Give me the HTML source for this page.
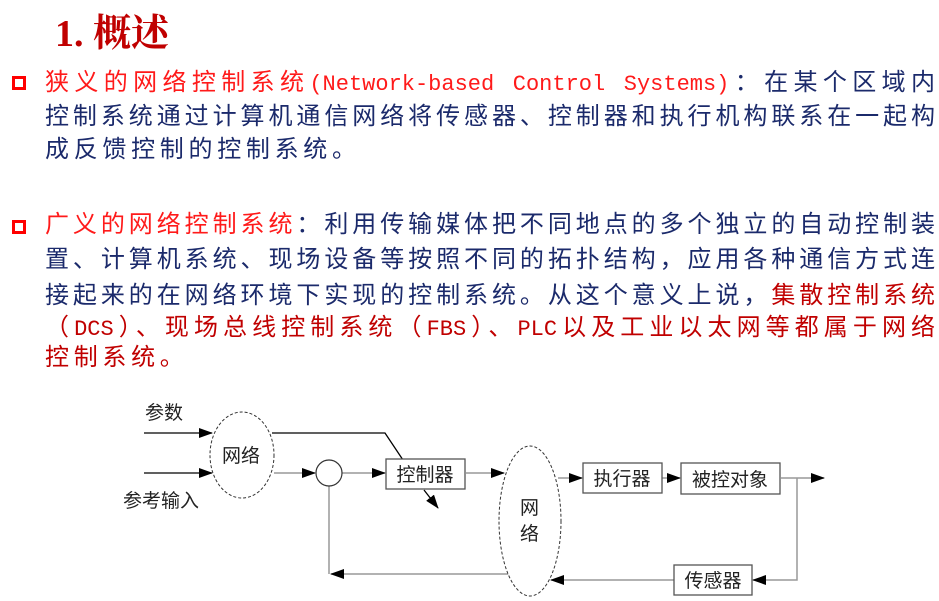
<!DOCTYPE html>
<html><head><meta charset="utf-8"><style>
body{margin:0;width:939px;height:601px;background:#fff;position:relative;overflow:hidden;font-family:"Liberation Sans","Noto Sans CJK SC",sans-serif}
.t{position:absolute;left:55px;top:2px;font-family:"Liberation Serif","Noto Serif CJK SC",serif;font-size:38px;color:#c00000;font-weight:bold}
.l{position:absolute;left:45px;width:890px;height:34px;line-height:34px;font-size:24px;color:#1b2a6b;white-space:nowrap;text-align:justify;text-align-last:justify}
.l.s{text-align-last:left;letter-spacing:4.7px}
.r{color:#ff1a1a}.d{color:#c00000}
.m{font-family:"Liberation Mono",monospace;font-size:22px}
.b{position:absolute;left:12px;width:8px;height:8px;border:3px solid #ff0000}
svg{position:absolute;left:0;top:0}
</style></head><body>
<div class="t">1. 概述</div>
<div class="b" style="top:76px"></div>
<div class="l" style="top:66px"><span class="r">狭义的网络控制系统<span class="m">(Network-based Control Systems)</span></span>：在某个区域内</div>
<div class="l" style="top:100px">控制系统通过计算机通信网络将传感器、控制器和执行机构联系在一起构</div>
<div class="l s" style="top:133px">成反馈控制的控制系统。</div>
<div class="b" style="top:220px"></div>
<div class="l" style="top:208px"><span class="r">广义的网络控制系统</span>：利用传输媒体把不同地点的多个独立的自动控制装</div>
<div class="l" style="top:243px">置、计算机系统、现场设备等按照不同的拓扑结构，应用各种通信方式连</div>
<div class="l" style="top:279px">接起来的在网络环境下实现的控制系统。从这个意义上说，<span class="d">集散控制系统</span></div>
<div class="l d" style="top:311px">（<span class="m">DCS</span>）、现场总线控制系统（<span class="m">FBS</span>）、<span class="m">PLC</span>以及工业以太网等都属于网络</div>
<div class="l s d" style="top:341px">控制系统。</div>
<svg width="939" height="601" font-family="Liberation Sans,Noto Sans CJK SC,sans-serif" font-size="19">
<defs><marker id="a" markerWidth="14" markerHeight="10" refX="13" refY="5" orient="auto" markerUnits="userSpaceOnUse"><path d="M0,0L14,5L0,10Z" fill="#000"/></marker></defs>
<g fill="#222">
<text x="145" y="419">参数</text>
<text x="123" y="507">参考输入</text>
</g>
<g stroke="#000" stroke-width="1.3" fill="none">
<line x1="144" y1="433" x2="212" y2="433" marker-end="url(#a)"/>
<line x1="144" y1="473" x2="212" y2="473" marker-end="url(#a)"/>
<polyline points="272,433 385,433 403,460"/>
<line x1="424" y1="490" x2="438" y2="508" marker-end="url(#a)"/>
</g>
<g stroke="#999" stroke-width="1.5" fill="none">
<line x1="274" y1="473" x2="315" y2="473" marker-end="url(#a)"/>
<line x1="342" y1="473" x2="385" y2="473" marker-end="url(#a)"/>
<line x1="466" y1="473" x2="504" y2="473" marker-end="url(#a)"/>
<line x1="329" y1="486" x2="329" y2="574"/>
<line x1="510" y1="574" x2="331" y2="574" marker-end="url(#a)"/>
<line x1="558" y1="478" x2="582" y2="478" marker-end="url(#a)"/>
<line x1="662" y1="478" x2="680" y2="478" marker-end="url(#a)"/>
<line x1="781" y1="478" x2="824" y2="478" marker-end="url(#a)"/>
<polyline points="797,478 797,580 753,580" marker-end="url(#a)"/>
<line x1="674" y1="580" x2="551" y2="580" marker-end="url(#a)"/>
</g>
<g stroke="#333" stroke-width="1" stroke-dasharray="3,2" fill="#fff">
<ellipse cx="242" cy="455" rx="32" ry="43"/>
<ellipse cx="530" cy="521" rx="31" ry="75"/>
</g>
<circle cx="329" cy="473" r="13" fill="#fff" stroke="#333" stroke-width="1.2"/>
<g fill="#fff" stroke="#555" stroke-width="1.3">
<rect x="386" y="459" width="79" height="30"/>
<rect x="583" y="463" width="79" height="30"/>
<rect x="681" y="463" width="99" height="31"/>
<rect x="674" y="565" width="78" height="30"/>
</g>
<g fill="#222">
<text x="222" y="462">网络</text>
<text x="520" y="514">网</text>
<text x="520" y="540">络</text>
<text x="425" y="481" text-anchor="middle">控制器</text>
<text x="622" y="485" text-anchor="middle">执行器</text>
<text x="730" y="486" text-anchor="middle">被控对象</text>
<text x="713" y="587" text-anchor="middle">传感器</text>
</g>
</svg>
</body></html>
